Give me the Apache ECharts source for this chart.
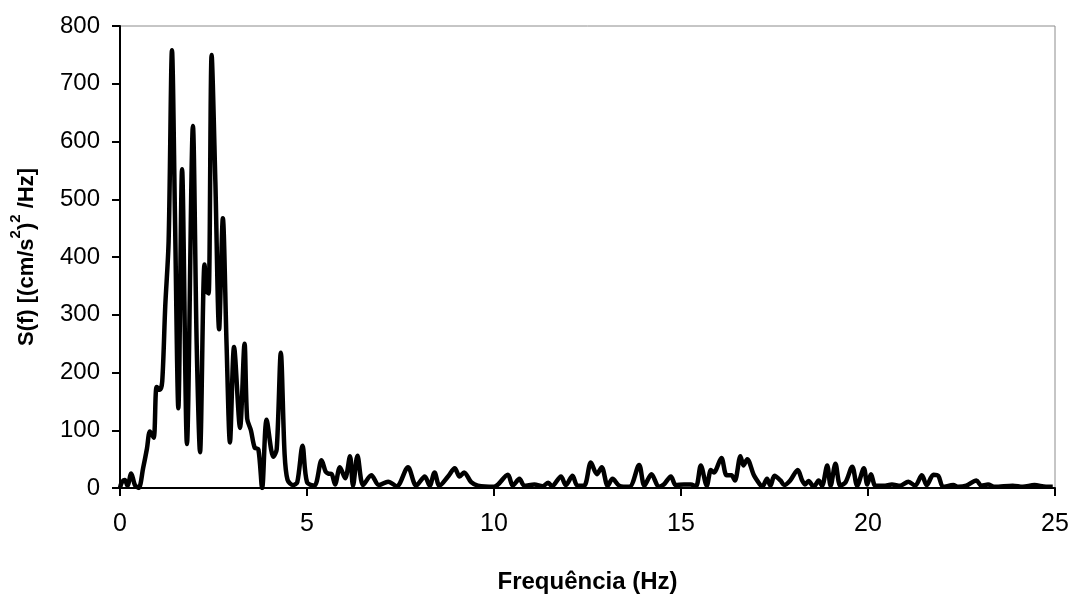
<!DOCTYPE html>
<html>
<head>
<meta charset="utf-8">
<script src="https://cdn.jsdelivr.net/npm/echarts@6/dist/echarts.min.js"></script>
<style>
  html, body { margin: 0; padding: 0; background: #fff; }
  #chart { width: 1074px; height: 599px; }
</style>
</head>
<body>
<div id="chart"></div>
<script>
// frequencia (Hz)
var freq = [0, 0.05, 0.13, 0.2, 0.3, 0.4, 0.5, 0.62, 0.72, 0.8, 0.9, 0.98, 1.07, 1.13, 1.21, 1.3, 1.39, 1.47, 1.56, 1.66,
  1.79, 1.95, 2.05, 2.14, 2.26, 2.32, 2.37, 2.45, 2.55, 2.65, 2.75, 2.85, 2.94, 3.05, 3.21, 3.33, 3.4, 3.5, 3.6, 3.7,
  3.8, 3.92, 4.1, 4.19, 4.3, 4.4, 4.48, 4.63, 4.74, 4.88, 5.0, 5.2, 5.39, 5.5, 5.57, 5.66, 5.75, 5.88, 6.02, 6.15,
  6.23, 6.35, 6.5, 6.72, 6.92, 7.17, 7.4, 7.7, 7.92, 8.15, 8.28, 8.41, 8.54, 8.77, 8.95, 9.08, 9.2, 9.39, 9.57, 10.0,
  10.37, 10.5, 10.68, 10.81, 11.08, 11.3, 11.45, 11.55, 11.79, 11.92, 12.1, 12.23, 12.41, 12.59, 12.75, 12.88, 13.04, 13.17, 13.35, 13.62,
  13.88, 14.02, 14.21, 14.41, 14.54, 14.73, 14.86, 15.08, 15.26, 15.4, 15.53, 15.69, 15.8, 15.88, 16.08, 16.22, 16.35, 16.44, 16.59, 16.67,
  16.77, 16.95, 17.11, 17.17, 17.3, 17.39, 17.5, 17.66, 17.76, 17.92, 18.12, 18.24, 18.32, 18.41, 18.55, 18.68, 18.77, 18.91, 19.0, 19.13,
  19.26, 19.4, 19.58, 19.71, 19.89, 19.98, 20.08, 20.2, 20.42, 20.64, 20.86, 21.08, 21.26, 21.44, 21.57, 21.75, 21.88, 22.01, 22.28, 22.41,
  22.63, 22.9, 23.03, 23.21, 23.39, 23.87, 24.14, 24.45, 24.76, 24.94];
// S(f)
var psd = [0, 10, 14, 4, 25, 5, 0, 35, 68, 98, 87, 175, 170, 185, 315, 427, 758, 470, 138, 552,
  76, 627, 250, 62, 387, 340, 337, 750, 530, 275, 467, 247, 79, 244, 104, 250, 120, 100, 70, 67,
  0, 118, 54, 67, 234, 60, 14, 5, 10, 73, 10, 4, 48, 28, 25, 24, 6, 36, 17, 55,
  4, 56, 5, 22, 5, 11, 3, 36, 4, 20, 4, 27, 4, 20, 34, 20, 27, 10, 4, 2,
  23, 4, 16, 4, 6, 3, 9, 3, 20, 5, 21, 4, 4, 44, 24, 36, 4, 16, 4, 2,
  40, 4, 24, 2, 6, 20, 5, 6, 6, 3, 39, 4, 31, 27, 52, 22, 22, 13, 55, 39,
  50, 22, 6, 2, 16, 4, 21, 13, 5, 13, 31, 13, 6, 12, 2, 13, 4, 39, 4, 42,
  4, 10, 37, 4, 34, 6, 24, 4, 4, 6, 4, 11, 4, 22, 5, 23, 21, 2, 5, 2,
  4, 13, 4, 6, 2, 4, 2, 5, 2, 2];

var font = 'Liberation Sans, Arial, sans-serif';

var chart = echarts.init(document.getElementById('chart'));

let seriesData = freq.map((f, i) => [f, psd[i]]);

chart.setOption({
  animation: false,
  backgroundColor: '#fff',
  grid: {
    left: 118,
    right: 19,
    top: 26,
    bottom: 99,
    show: true,
    borderColor: '#8c8c8c',
    borderWidth: 1,
    backgroundColor: 'transparent'
  },
  xAxis: {
    type: 'value',
    min: 0,
    max: 25,
    interval: 5,
    name: 'Frequência (Hz)',
    nameLocation: 'middle',
    nameGap: 82,
    nameTextStyle: { fontFamily: font, fontSize: 24, fontWeight: 'bold', color: '#000' },
    axisLine: { lineStyle: { color: '#000', width: 2 } },
    axisTick: { show: true, length: 8, lineStyle: { color: '#000', width: 2 } },
    axisLabel: { fontFamily: font, fontSize: 25, color: '#000', margin: 24 },
    splitLine: { show: false }
  },
  yAxis: {
    type: 'value',
    min: 0,
    max: 800,
    interval: 100,
    name: '{t|S(f) [(cm/s}{s|2}{t|)}{s|2}{t| /Hz]}',
    nameLocation: 'middle',
    nameGap: 82,
    nameRotate: 90,
    nameTextStyle: {
      rich: {
        t: { fontFamily: font, fontSize: 22, fontWeight: 'bold', color: '#000', lineHeight: 30, verticalAlign: 'bottom' },
        s: { fontFamily: font, fontSize: 15, fontWeight: 'bold', color: '#000', verticalAlign: 'top' }
      }
    },
    axisLine: { show: true, lineStyle: { color: '#000', width: 2 } },
    axisTick: { show: true, length: 8, lineStyle: { color: '#000', width: 2 } },
    axisLabel: { fontFamily: font, fontSize: 24, color: '#000', margin: 20 },
    splitLine: { show: false }
  },
  series: [{
    type: 'line',
    data: seriesData,
    smooth: 0.3,
    symbol: 'none',
    lineStyle: { color: '#000', width: 4.5, join: 'round' },
    clip: true
  }]
});
</script>
</body>
</html>
